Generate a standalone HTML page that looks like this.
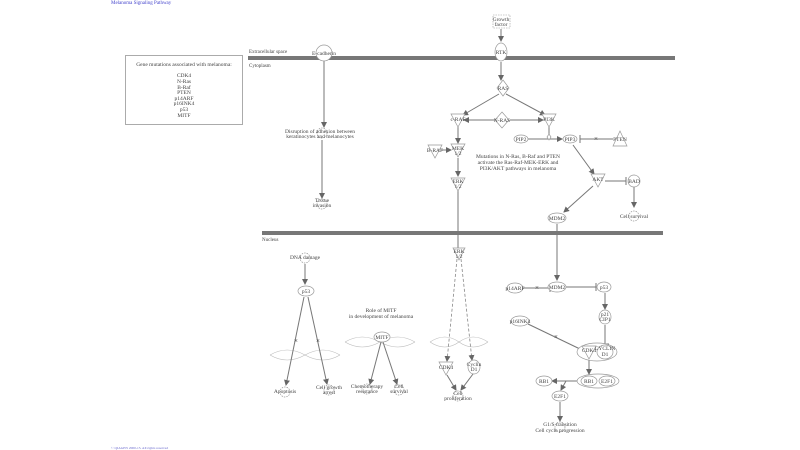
<!DOCTYPE html>
<html><head><meta charset="utf-8"><style>
html,body{margin:0;padding:0;background:#fff}
svg{display:block}
text{font-family:"Liberation Serif",serif;font-size:5.5px;fill:#444;text-anchor:middle}
.n{fill:#fff;stroke:#999;stroke-width:0.7}
.l{stroke:#777;stroke-width:1;fill:none}
.d{stroke:#888;stroke-width:0.8;fill:none;stroke-dasharray:3,2}
.h{stroke:#bbb;stroke-width:0.6;fill:none}
</style></head><body>
<svg width="800" height="450" viewBox="0 0 800 450" xmlns="http://www.w3.org/2000/svg">
<defs><marker id="a" markerWidth="6" markerHeight="6" refX="5" refY="3" orient="auto" markerUnits="userSpaceOnUse"><path d="M0,0 L6,3 L0,6z" fill="#666"/></marker>
<marker id="t" markerWidth="2" markerHeight="8" refX="1" refY="4" orient="auto" markerUnits="userSpaceOnUse"><path d="M1,0 V8" stroke="#777" stroke-width="1"/></marker></defs>
<text x="111" y="4" style="text-anchor:start;fill:#44c;font-size:5px">Melanoma Signaling Pathway</text>
<text x="111" y="449" style="text-anchor:start;fill:#66c;font-size:3.5px">© QIAGEN 2000-15. All rights reserved</text>
<rect x="125.5" y="55.5" width="117" height="69" fill="#fff" stroke="#888" stroke-width="0.7"/>
<text x="184" y="66">Gene mutations associated with melanoma:</text>
<text x="184" y="77">CDK4</text><text x="184" y="83">N-Ras</text><text x="184" y="89">B-Raf</text><text x="184" y="94">PTEN</text><text x="184" y="100">p14ARF</text><text x="184" y="105">p16INK4</text><text x="184" y="111">p53</text><text x="184" y="117">MITF</text>
<rect x="248" y="56" width="427" height="4" fill="#777"/>
<rect x="262" y="231" width="401" height="4" fill="#777"/>
<text x="249" y="53" style="text-anchor:start;font-size:5px">Extracellular space</text>
<text x="249" y="67" style="text-anchor:start;font-size:5px">Cytoplasm</text>
<text x="262" y="241" style="text-anchor:start;font-size:5px">Nucleus</text>
<!-- cytoplasm edges -->
<path class="l" d="M501,29 V41" marker-end="url(#a)"/>
<path class="l" d="M501,62 V80" marker-end="url(#a)"/>
<path class="l" d="M499,94 L463,115" marker-end="url(#a)"/>
<path class="l" d="M506,94 L545,115" marker-end="url(#a)"/>
<path class="l" d="M495,120 H464" marker-end="url(#a)"/>
<path class="l" d="M510,120 H543" marker-end="url(#a)"/>
<path class="l" d="M458,127 V143" marker-end="url(#a)"/>
<path class="l" d="M441,150 H451" marker-end="url(#a)"/>
<path class="l" d="M458,158 V176" marker-end="url(#a)"/>
<path class="l" d="M458,188 V250"/>
<path class="l" d="M528,139 H562" marker-end="url(#a)"/>
<path class="l" d="M549,127 V136"/>
<path class="l" d="M613,139 H580" marker-end="url(#t)"/>
<text x="596" y="141" style="font-size:7px;fill:#333">×</text>
<path class="l" d="M573,145 L594,174" marker-end="url(#a)"/>
<path class="l" d="M605,181 H626" marker-end="url(#t)"/>
<path class="l" d="M634,187 V207" marker-end="url(#a)"/>
<path class="l" d="M593,186 L564,212" marker-end="url(#a)"/>
<path class="l" d="M557,224 V280" marker-end="url(#a)"/>
<path class="l" d="M324,61 V127" marker-end="url(#a)"/>
<path class="l" d="M322,140 V198" marker-end="url(#a)"/>
<!-- cytoplasm nodes -->
<rect x="493" y="15" width="17" height="13" fill="#fff" stroke="#999" stroke-width="0.6" stroke-dasharray="1.5,1"/>
<text x="501" y="21">Growth</text><text x="501" y="26">factor</text>
<ellipse class="n" cx="501" cy="52" rx="6" ry="9"/><text x="501" y="54">RTK</text>
<circle class="n" cx="324" cy="53" r="8"/><text x="324" y="55">E-cadherin</text>
<path class="n" d="M503,80 L509,88 L503,96 L497,88z"/><text x="503" y="90">RAS</text>
<path class="n" d="M451,114 H465 L458,127z"/><text x="458" y="121">c-RAF</text>
<path class="n" d="M502,112 L509,120 L502,128 L495,120z"/><text x="502" y="122">N-RAS</text>
<path class="n" d="M542,114 H556 L549,127z"/><text x="549" y="121">PI3K</text>
<path class="n" d="M549,134 L551,137 L549,140 L547,137z"/>
<ellipse class="n" cx="521" cy="139" rx="7" ry="4"/><text x="521" y="141">PIP2</text>
<ellipse class="n" cx="570" cy="139" rx="7" ry="4"/><text x="570" y="141">PIP3</text>
<path class="n" d="M620,131 L627,146 H613z"/><text x="620" y="141">PTEN</text>
<path class="n" d="M428,145 H442 L435,158z"/><text x="435" y="152">B-RAF</text>
<path class="n" d="M451,144 H465 L458,157z"/><text x="458" y="150">MEK</text><text x="458" y="155">1/2</text>
<path class="n" d="M451,178 H465 L458,191z"/><text x="458" y="183">ERK</text><text x="458" y="188">1/2</text>
<text x="518" y="158">Mutations in N-Ras, B-Raf and PTEN</text>
<text x="518" y="164">activate the Ras-Raf-MEK-ERK and</text>
<text x="518" y="170">PI3K/AKT pathways in melanoma</text>
<path class="n" d="M591,174 H605 L598,187z"/><text x="598" y="181">AKT</text>
<circle class="n" cx="634" cy="181" r="6"/><text x="634" y="183">BAD</text>
<circle class="n" cx="634" cy="216" r="5" stroke-dasharray="1.5,1"/><text x="634" y="218">Cell survival</text>
<ellipse class="n" cx="557" cy="218" rx="9" ry="5"/><text x="557" y="220">MDM2</text>
<circle class="n" cx="322" cy="133" r="5" stroke-dasharray="1.5,1"/>
<text x="320" y="133">Disruption of adhesion between</text><text x="320" y="138">keratinocytes and melanocytes</text>
<circle class="n" cx="322" cy="204" r="5" stroke-dasharray="1.5,1"/>
<text x="322" y="202">Tissue</text><text x="322" y="207">invasion</text>
<!-- nucleus helices -->
<g class="h">
<path d="M270,355 Q287,345 305,355 T340,355 M270,355 Q287,365 305,355 T340,355"/>
<path d="M345,342 Q362,332 380,342 T415,342 M345,342 Q362,352 380,342 T415,342"/>
<path d="M430,342 Q445,332 459,342 T488,342 M430,342 Q445,352 459,342 T488,342"/>
</g>
<!-- nucleus edges -->
<path class="l" d="M305,264 V284" marker-end="url(#a)"/>
<path class="l" d="M304,297 L286,385" marker-end="url(#a)"/>
<path class="l" d="M308,297 L327,384" marker-end="url(#a)"/>
<text x="296" y="343" style="font-size:7px;fill:#333">×</text>
<text x="318" y="343" style="font-size:7px;fill:#333">×</text>
<path class="l" d="M381,342 L370,384" marker-end="url(#a)"/>
<path class="l" d="M383,342 L397,384" marker-end="url(#a)"/>
<path class="d" d="M457,259 L447,361" marker-end="url(#a)"/>
<path class="d" d="M461,259 L472,360" marker-end="url(#a)"/>
<path class="l" d="M447,375 L456,390" marker-end="url(#a)"/>
<path class="l" d="M473,374 L461,390" marker-end="url(#a)"/>
<path class="l" d="M523,288 H550" marker-end="url(#t)"/>
<text x="537" y="290" style="font-size:7px;fill:#333">×</text>
<path class="l" d="M566,287 H596" marker-end="url(#t)"/>
<path class="l" d="M605,293 V309" marker-end="url(#a)"/>
<path class="l" d="M605,325 V344" marker-end="url(#t)"/>
<path class="l" d="M528,324 L580,349"/>
<text x="556" y="339" style="font-size:7px;fill:#333">×</text>
<path class="l" d="M589,358 V374" marker-end="url(#a)"/>
<path class="l" d="M581,381 H552" marker-end="url(#a)"/>
<path class="l" d="M566,381 L561,390" marker-end="url(#a)"/>
<path class="l" d="M560,402 V421" marker-end="url(#a)"/>
<!-- nucleus nodes -->
<circle class="n" cx="305" cy="258" r="5" stroke-dasharray="1.5,1"/><text x="305" y="259">DNA damage</text>
<ellipse class="n" cx="306" cy="291" rx="8" ry="5"/><text x="306" y="293">p53</text>
<circle class="n" cx="285" cy="392" r="5" stroke-dasharray="1.5,1"/><text x="285" y="393">Apoptosis</text>
<circle class="n" cx="329" cy="390" r="5" stroke-dasharray="1.5,1"/><text x="329" y="389">Cell growth</text><text x="329" y="394">arrest</text>
<text x="381" y="312">Role of MITF</text><text x="381" y="318">in development of melanoma</text>
<ellipse class="n" cx="382" cy="337" rx="8" ry="5"/><text x="382" y="339">MITF</text>
<circle class="n" cx="367" cy="389" r="5" stroke-dasharray="1.5,1"/><text x="367" y="388">Chemotherapy</text><text x="367" y="393">resistance</text>
<circle class="n" cx="399" cy="390" r="5" stroke-dasharray="1.5,1"/><text x="399" y="388">Cell</text><text x="399" y="393">survival</text>
<path class="n" d="M453,248 H465 L459,260z"/><text x="459" y="253">ERK</text><text x="459" y="258">1/2</text>
<path class="n" d="M439,362 H453 L446,375z"/><text x="446" y="369">CDK4</text>
<ellipse class="n" cx="474" cy="367" rx="6" ry="7"/><text x="474" y="366">Cyclin</text><text x="474" y="371">D1</text>
<circle class="n" cx="458" cy="396" r="5" stroke-dasharray="1.5,1"/><text x="458" y="395">Cell</text><text x="458" y="400">proliferation</text>
<ellipse class="n" cx="515" cy="288" rx="8" ry="5"/><text x="515" y="290">p14ARF</text>
<ellipse class="n" cx="557" cy="287" rx="9" ry="5"/><text x="557" y="289">MDM2</text>
<ellipse class="n" cx="604" cy="287" rx="7" ry="5"/><text x="604" y="289">p53</text>
<ellipse class="n" cx="605" cy="317" rx="6" ry="7"/><text x="605" y="316">p21</text><text x="605" y="321">CIP1</text>
<ellipse class="n" cx="520" cy="321" rx="9" ry="5"/><text x="520" y="323">p16INK4</text>
<ellipse class="n" cx="597" cy="352" rx="20" ry="9"/>
<path class="n" d="M582,346 H596 L589,359z"/><text x="589" y="352">CDK4</text>
<ellipse class="n" cx="605" cy="352" rx="8" ry="7"/><text x="605" y="350">CYCLIN</text><text x="605" y="356">D1</text>
<ellipse class="n" cx="544" cy="381" rx="8" ry="5"/><text x="544" y="383">RB1</text>
<ellipse class="n" cx="598" cy="381" rx="21" ry="7"/>
<ellipse class="n" cx="589" cy="381" rx="8" ry="5"/><text x="589" y="383">RB1</text>
<ellipse class="n" cx="607" cy="381" rx="8" ry="5"/><text x="607" y="383">E2F1</text>
<ellipse class="n" cx="560" cy="396" rx="8" ry="5"/><text x="560" y="398">E2F1</text>
<circle class="n" cx="560" cy="427" r="5" stroke-dasharray="1.5,1"/><text x="560" y="426">G1/S transition</text><text x="560" y="432">Cell cycle progression</text>
</svg>
</body></html>
